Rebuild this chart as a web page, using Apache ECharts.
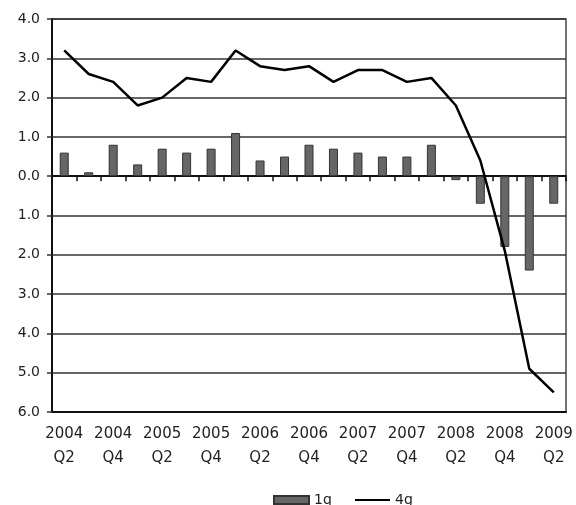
<!DOCTYPE html>
<html>
<head>
<meta charset="utf-8">
<script src="https://cdn.jsdelivr.net/npm/echarts@6/dist/echarts.min.js"></script>
<style>
html,body{margin:0;padding:0;background:#fff;}
#chart{width:576px;height:505px;}
</style>
</head>
<body>
<div id="chart"></div>
<script>
var categories = ['2004\nQ2','2004\nQ3','2004\nQ4','2005\nQ1','2005\nQ2','2005\nQ3','2005\nQ4','2006\nQ1','2006\nQ2','2006\nQ3','2006\nQ4','2007\nQ1','2007\nQ2','2007\nQ3','2007\nQ4','2008\nQ1','2008\nQ2','2008\nQ3','2008\nQ4','2009\nQ1','2009\nQ2'];
var values1q = [0.6,0.1,0.8,0.3,0.7,0.6,0.7,1.1,0.4,0.5,0.8,0.7,0.6,0.5,0.5,0.8,-0.1,-0.7,-1.8,-2.4,-0.7];
var values4g = [3.2,2.6,2.4,1.8,2.0,2.5,2.4,3.2,2.8,2.7,2.8,2.4,2.7,2.7,2.4,2.5,1.8,0.4,-1.9,-4.9,-5.5];
var yTicks = {min:-6, max:4, interval:1};

var chart = echarts.init(document.getElementById('chart'));
chart.setOption({
  animation:false,
  backgroundColor:'#fff',
  textStyle:{fontFamily:'DejaVu Sans'},
  grid:{left:52,right:10,top:19,bottom:93,show:true,borderColor:'#444',borderWidth:1.5},
  legend:[
    {left:268, top:488, itemWidth:35, itemHeight:8, itemGap:0,
     textStyle:{fontFamily:'DejaVu Sans',fontSize:14,color:'#222'},
     data:[{name:'1q',icon:'rect'}]},
    {left:350, top:488, itemWidth:35, itemHeight:2, itemGap:0,
     textStyle:{fontFamily:'DejaVu Sans',fontSize:14,color:'#222'},
     data:[{name:'4g',icon:'rect'}]}
  ],
  xAxis:[
    {type:'category',data:categories,boundaryGap:true,
     axisLine:{onZero:true,lineStyle:{color:'#111',width:2}},
     axisTick:{show:true,interval:0,length:5,lineStyle:{color:'#111',width:1.5}},
     axisLabel:{show:false},splitLine:{show:false}},
    {type:'category',data:categories,boundaryGap:true,position:'bottom',
     axisLine:{onZero:false,show:true,lineStyle:{color:'#111',width:2}},
     axisTick:{show:false},
     axisLabel:{interval:1,fontFamily:'DejaVu Sans',fontSize:15,lineHeight:24,color:'#222',margin:10},
     splitLine:{show:false}}
  ],
  yAxis:{type:'value',min:yTicks.min,max:yTicks.max,interval:yTicks.interval,
    axisLine:{show:true,lineStyle:{color:'#111',width:2}},
    axisTick:{show:true,length:5,lineStyle:{color:'#333',width:1.5}},
    axisLabel:{fontFamily:'DejaVu Sans',fontSize:14,color:'#222',margin:12,
      formatter:function(v){return Math.abs(v).toFixed(1);}},
    splitLine:{show:true,lineStyle:{color:'#333',width:1.5}}
  },
  series:[
    {name:'1q',type:'bar',xAxisIndex:0,data:values1q,barWidth:9,
     itemStyle:{color:'#666',borderColor:'#333',borderWidth:1}},
    {name:'4g',type:'line',xAxisIndex:0,data:values4g,symbol:'none',
     lineStyle:{color:'#000',width:2.5},itemStyle:{color:'#000'}}
  ]
});
</script>
</body>
</html>
